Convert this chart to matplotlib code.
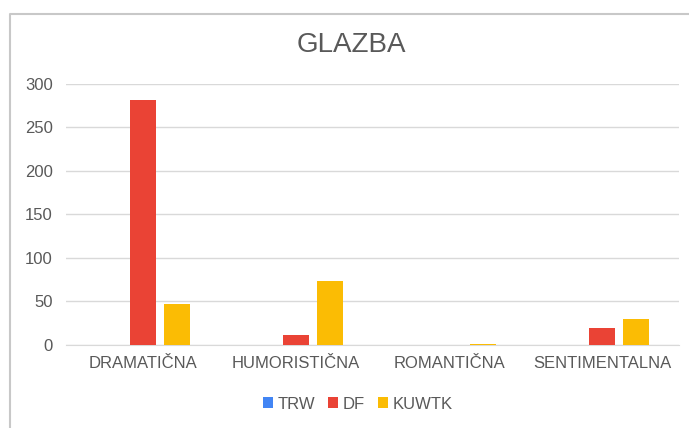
import numpy as np
import matplotlib.pyplot as plt
from matplotlib.lines import Line2D

categories = ['DRAMATIČNA', 'HUMORISTIČNA', 'ROMANTIČNA', 'SENTIMENTALNA']
series_names = ['TRW', 'DF', 'KUWTK']
trw = [0, 0, 0, 0]
df = [282, 11, 0, 20]
kuwtk = [47, 74, 1, 30]
colors = ['#4285F4', '#EA4335', '#FBBC04']

plt.rcParams['font.family'] = ['Liberation Sans', 'DejaVu Sans']

fig = plt.figure(figsize=(6.89, 4.28), dpi=100)
# chart frame: only top and left edges are visible in the crop
fig.lines.append(Line2D([9.5 / 689, 9.5 / 689, 1], [0, 1 - 13.5 / 428, 1 - 13.5 / 428],
                        transform=fig.transFigure, color='#C8C8C8', linewidth=1.5))

ax = fig.add_axes([0.0965, 0.194, 0.8885, 0.61])
x = np.arange(len(categories))
width = 0.17
step = 0.22
for i, (name, vals) in enumerate(zip(series_names, [trw, df, kuwtk])):
    ax.bar(x + (i - 1) * step, vals, width, color=colors[i], label=name, zorder=3)

ax.set_xlim(-0.5, 3.5)
ax.set_ylim(0, 300)
ax.set_yticks(range(0, 301, 50))
ax.set_xticks(x)
ax.set_xticklabels(categories, fontsize=12, color='#595959')
ax.tick_params(axis='y', labelsize=12, labelcolor='#595959', length=0, pad=10)
ax.tick_params(axis='x', length=0, pad=8)
ax.grid(axis='y', color='#D9D9D9', linewidth=1, zorder=0)
for s in ['top', 'right', 'left']:
    ax.spines[s].set_visible(False)
ax.spines['bottom'].set_color('#D9D9D9')

fig.text(0.51, 0.895, 'GLAZBA', ha='center', va='center', fontsize=20, color='#595959')

ax.legend(loc='upper center', bbox_to_anchor=(0.476, -0.14), ncol=3, frameon=False,
          fontsize=12, handlelength=0.6, handleheight=0.6, handletextpad=0.25,
          columnspacing=0.8, labelcolor='#595959')

fig.savefig('out.png', dpi=100)
